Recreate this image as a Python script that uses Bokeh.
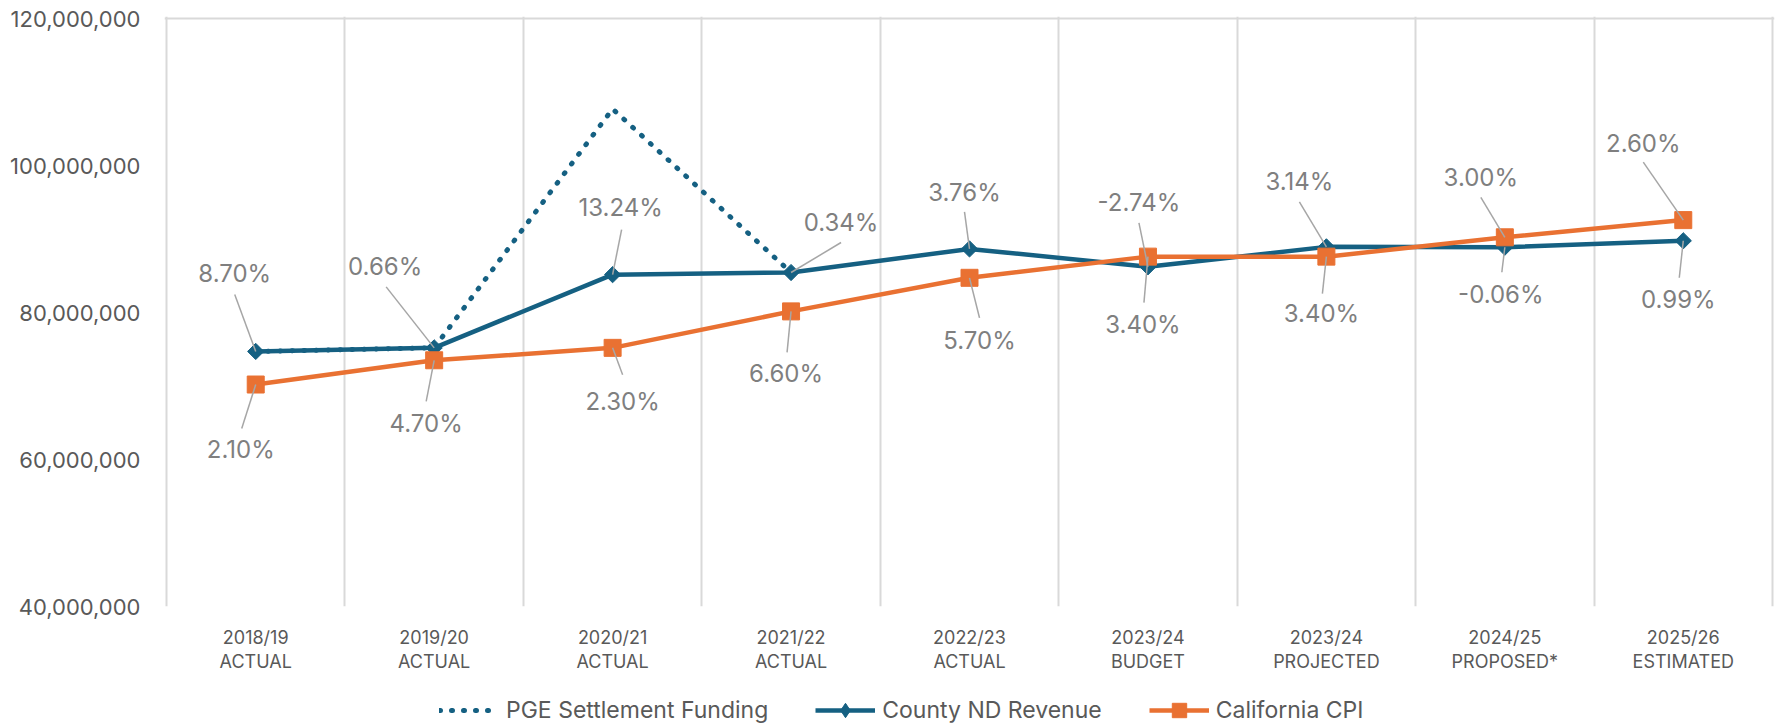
import numpy as np
from bokeh.plotting import figure
from bokeh.layouts import column
from bokeh.models import (FixedTicker, NumeralTickFormatter, Grid, Span, Legend,
                          LegendItem, ColumnDataSource, Range1d)
from bokeh.core.properties import value
from bokeh.embed import file_html
from bokeh.resources import INLINE

# ---------------- data ----------------
categories = ["2018/19\nACTUAL", "2019/20\nACTUAL", "2020/21\nACTUAL", "2021/22\nACTUAL",
              "2022/23\nACTUAL", "2023/24\nBUDGET", "2023/24\nPROJECTED",
              "2024/25\nPROPOSED*", "2025/26\nESTIMATED"]
county_nd_revenue = [74_700_000, 75_190_000, 85_150_000, 85_440_000, 88_650_000,
                     86_220_000, 88_930_000, 88_880_000, 89_760_000]
california_cpi = [70_200_000, 73_500_000, 75_190_000, 80_150_000, 84_720_000,
                  87_600_000, 87_600_000, 90_230_000, 92_570_000]
pge_settlement = [74_700_000, 75_190_000, 107_700_000, 85_440_000]  # first four years only
county_labels = ["8.70%", "0.66%", "13.24%", "0.34%", "3.76%", "-2.74%", "3.14%", "-0.06%", "0.99%"]
cpi_labels = ["2.10%", "4.70%", "2.30%", "6.60%", "5.70%", "3.40%", "3.40%", "3.00%", "2.60%"]
series_names = ["PGE Settlement Funding", "County ND Revenue", "California CPI"]
y_ticks = [40_000_000, 60_000_000, 80_000_000, 100_000_000, 120_000_000]

# ---------------- styles / layout ----------------
BLUE = "#156082"
ORANGE = "#E97132"
GRID = "#D9D9D9"
AXIS_TXT = "#595959"
LBL_TXT = "#7F7F7F"
LEADER = "#A6A6A6"
FONT = "Inter"

W = 1777
H_MAIN, H_LEG = 688, 35
INNER_W, INNER_H = 1606, 588      # plot area (gridline to gridline)
PAD = 2                            # px so edge lines are not clipped
B_LEFT = 166 - PAD
B_TOP = 18 - PAD
FRAME_W = INNER_W + 2 * PAD
FRAME_H = INNER_H + PAD
B_RIGHT = W - B_LEFT - FRAME_W
B_BOTTOM = H_MAIN - B_TOP - FRAME_H
Y0, Y1 = 40_000_000, 120_000_000
n = len(categories)
px_x = n / INNER_W
px_y = (Y1 - Y0) / INNER_H

# label placement (pixel offsets from the point: text centre, leader start)
county_txt_off = [(-21, -78), (-49, -81), (8, -67), (50, -50), (-5, -56),
                  (-9, -64), (-27, -65), (-4, 47), (-5, 59)]
county_lead_off = [(-21, -57), (-48, -61), (9, -45), (50, -30), (-5, -37),
                   (-9, -44), (-27, -45), (-3, 25), (-4, 37)]
cpi_txt_off = [(-15, 65), (-8, 63), (10, 54), (-5, 62), (10, 63),
               (-5, 68), (-5, 57), (-24, -60), (-40, -77)]
cpi_lead_off = [(-14, 44), (-8, 41), (10, 27), (-4, 41), (10, 40),
                (-4, 46), (-4, 37), (-24, -40), (-40, -58)]

xs = [i + 0.5 for i in range(n)]

p = figure(width=W, height=H_MAIN, output_backend="svg", toolbar_location=None,
           x_range=Range1d(-PAD * px_x, n + PAD * px_x),
           y_range=Range1d(Y0, Y1 + PAD * px_y),
           min_border_left=B_LEFT, min_border_right=B_RIGHT,
           min_border_top=B_TOP, min_border_bottom=B_BOTTOM)
p.outline_line_color = None
p.background_fill_color = "white"
p.border_fill_color = "white"

# grid: vertical lines at category boundaries, top line
p.xgrid.visible = False
p.ygrid.visible = False
vgrid = Grid(dimension=0, ticker=FixedTicker(ticks=list(range(n + 1))),
             grid_line_color=GRID, grid_line_width=2)
p.add_layout(vgrid)
p.add_layout(Span(location=Y1, dimension="width", line_color=GRID, line_width=2))

# axes
xa = p.xaxis[0]
xa.ticker = FixedTicker(ticks=xs)
xa.major_label_overrides = {x: c for x, c in zip(xs, categories)}
xa.axis_line_color = None
xa.major_tick_line_color = None
xa.minor_tick_line_color = None
xa.major_tick_out = 0
xa.major_tick_in = 0
xa.major_label_standoff = 20
xa.major_label_text_font = FONT
xa.major_label_text_font_size = "18px"
xa.major_label_text_color = AXIS_TXT
xa.major_label_text_line_height = 1.15

ya = p.yaxis[0]
ya.ticker = FixedTicker(ticks=y_ticks)
ya.formatter = NumeralTickFormatter(format="0,0")
ya.axis_line_color = None
ya.major_tick_line_color = None
ya.minor_tick_line_color = None
ya.major_tick_out = 0
ya.major_tick_in = 0
ya.major_label_standoff = 22 + PAD
ya.major_label_text_font = FONT
ya.major_label_text_font_size = "22px"
ya.major_label_text_color = AXIS_TXT

# series styles
pge_style = dict(line_color=BLUE, line_width=5, line_dash="1 11", line_cap="round")
blue_line_style = dict(line_color=BLUE, line_width=4.5, line_join="round")
blue_mark_style = dict(marker="square", size=11.5, angle=np.pi / 4,
                       fill_color=BLUE, line_color=BLUE, line_width=1)
org_line_style = dict(line_color=ORANGE, line_width=4.5, line_join="round")
org_mark_style = dict(marker="square", size=17, fill_color=ORANGE,
                      line_color=ORANGE, line_width=1)

p.line(xs[:len(pge_settlement)], pge_settlement, **pge_style)
p.line(xs, county_nd_revenue, **blue_line_style)
p.scatter(xs, county_nd_revenue, **blue_mark_style)
p.line(xs, california_cpi, **org_line_style)
p.scatter(xs, california_cpi, **org_mark_style)

# data labels with leader lines
def labels(vals, texts, txt_off, lead_off):
    src = ColumnDataSource(dict(
        x=xs, y=vals, text=texts,
        xo=[o[0] for o in txt_off], yo=[o[1] for o in txt_off],
        x0=[x + o[0] * px_x for x, o in zip(xs, lead_off)],
        y0=[v - o[1] * px_y for v, o in zip(vals, lead_off)],
    ))
    p.segment(x0="x0", y0="y0", x1="x", y1="y", source=src,
              line_color=LEADER, line_width=1.5)
    p.text(x="x", y="y", text="text", x_offset="xo", y_offset="yo", source=src,
           text_align="center", text_baseline="middle",
           text_font=value(FONT), text_font_size="24px", text_color=LBL_TXT)

labels(county_nd_revenue, county_labels, county_txt_off, county_lead_off)
labels(california_cpi, cpi_labels, cpi_txt_off, cpi_lead_off)

# ---------------- legend strip ----------------
# The same series are drawn in a strip whose ranges keep them out of view;
# the strip only serves to show the legend below the chart.
lg = figure(width=W, height=H_LEG, output_backend="svg", toolbar_location=None,
            x_range=Range1d(0, 1), y_range=Range1d(0, 1),
            min_border_left=0, min_border_right=0, min_border_top=0, min_border_bottom=0)
lg.axis.visible = False
lg.grid.visible = False
lg.outline_line_color = None
lg.border_fill_color = "white"
r_pge = lg.line(xs[:len(pge_settlement)], pge_settlement, **pge_style)
r_bl = lg.line(xs, county_nd_revenue, **blue_line_style)
r_bm = lg.scatter(xs, county_nd_revenue, marker="diamond", size=16,
                  fill_color=BLUE, line_color=BLUE, line_width=1)
r_ol = lg.line(xs, california_cpi, **org_line_style)
r_om = lg.scatter(xs, california_cpi, **org_mark_style)

LEG_X = 439 - B_LEFT   # strip frame is aligned with the chart frame
GLYPH_H = 36
legend = Legend(items=[
    LegendItem(label=series_names[0], renderers=[r_pge]),
    LegendItem(label=series_names[1], renderers=[r_bl, r_bm]),
    LegendItem(label=series_names[2], renderers=[r_ol, r_om]),
], orientation="horizontal", location=(LEG_X, H_LEG - 23 - GLYPH_H // 2 - (H_LEG - GLYPH_H) + 0),
    margin=0, padding=0,
    spacing=47, glyph_width=60, glyph_height=GLYPH_H, label_standoff=7, label_height=22,
    label_text_font=FONT, label_text_font_size="23px", label_text_color=AXIS_TXT,
    border_line_color=None, background_fill_alpha=0)
lg.add_layout(legend)

layout = column(p, lg, spacing=0)
open("out.html", "w").write(file_html(layout, INLINE))
